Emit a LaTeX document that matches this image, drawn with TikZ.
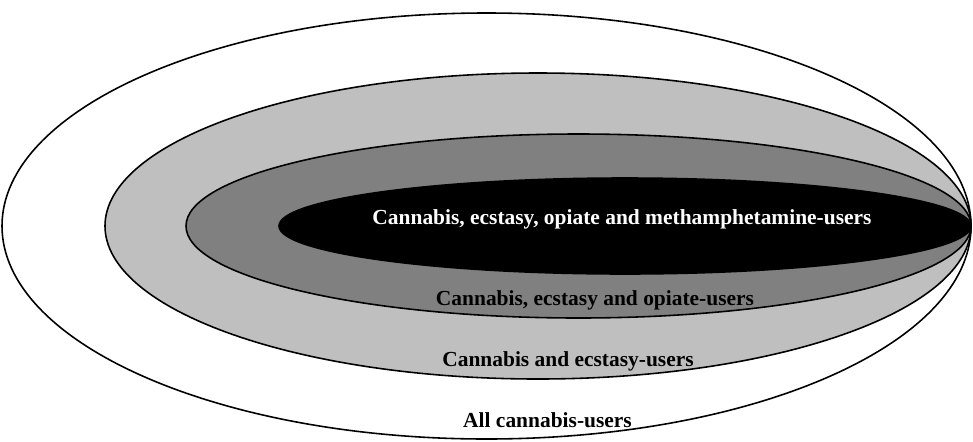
\documentclass[tikz,border=0pt]{standalone}
\usepackage{fontspec}
\setmainfont{Liberation Serif}
\usepackage{tikz}

\begin{document}
\begin{tikzpicture}[line cap=round, line join=round,
    ring/.style={draw=black, line width=0.45pt},
    lbl/.style={font=\bfseries\fontsize{6.1pt}{7pt}\selectfont, anchor=base, inner sep=0pt}]

             \useasboundingbox (0,0) rectangle (9.73,4.41);

             % nested sets, all touching at the right tip
             \draw[ring,fill=white]    (4.865,2.15) ellipse [x radius=4.845, y radius=2.13];
             \draw[ring,fill=black!25] (5.38,2.15)  ellipse [x radius=4.33,  y radius=1.53];
             \draw[ring,fill=black!50] (5.785,2.15) ellipse [x radius=3.925, y radius=0.92];
             \draw[ring,fill=black]    (6.25,2.15)  ellipse [x radius=3.46,  y radius=0.48];

%             \def\tip{9.71}  % common right point
%             \fill[red] (\tip,2.15) circle (0.03);

             \node[lbl,white] (meth)   at (6.22,2.17)  {Cannabis, ecstasy, opiate and methamphetamine-users};
             \node[lbl]       (opiate) at (5.95,1.36)  {Cannabis, ecstasy and opiate-users};
             \node[lbl]       (xtc)    at (5.68,0.75)  {Cannabis and ecstasy-users};
             \node[lbl]       (all)    at (5.475,0.14) {All cannabis-users};
            \end{tikzpicture}
\end{document}
